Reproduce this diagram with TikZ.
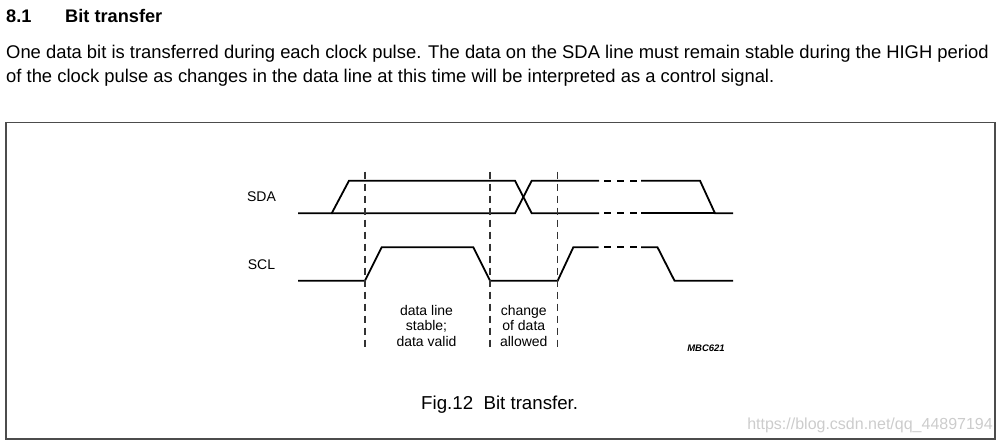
\documentclass[tikz,border=0pt]{standalone}
\usepackage{fontspec}
\setmainfont{Liberation Sans}

\begin{document}
\begin{tikzpicture}[x=1pt,y=1pt]
	\tikzstyle{every node}+=[inner sep=0pt]
	\tikzstyle{signal}=[black, line width=1.8pt, line join=miter]
	\tikzstyle{marker}=[black!80, line width=1.1pt, dash pattern=on 7pt off 5pt]
	\tikzstyle{label}=[font=\fontsize{14}{15.5}\selectfont, align=center]
	\useasboundingbox (0,0) rectangle (1001,-442);
	% heading and text
	\node [anchor=base west, font=\bfseries\fontsize{18.2}{20}\selectfont] (secnum) at (6,-22.7) {8.1};
	\node [anchor=base west, font=\bfseries\fontsize{18.2}{20}\selectfont] (sectitle) at (65,-22.7) {Bit transfer};
	\node [anchor=base west, font=\fontsize{18.4}{22}\selectfont] (textone) at (6,-58.5) {One data bit is transferred during each clock pulse. The data on the SDA line must remain stable during the HIGH period};
	\node [anchor=base west, font=\fontsize{18.4}{22}\selectfont] (texttwo) at (6,-82) {of the clock pulse as changes in the data line at this time will be interpreted as a control signal.};
	% frame
	\draw [black!70, line width=1.6pt] (6,-122.5) rectangle (995,-439);
	% SDA
	\draw [signal] (298,-213.3) -- (331.7,-213.3) -- (349,-180.7) -- (515,-180.7) -- (531.7,-213.3) -- (599,-213.3);
	\draw [signal] (331.7,-213.3) -- (515,-213.3) -- (531.7,-180.7) -- (599,-180.7);
	\draw [signal] (641,-180.7) -- (700,-180.7) -- (715,-213.3) -- (733,-213.3);
	\draw [signal] (641,-213.3) -- (715,-213.3);
	% SCL
	\draw [signal] (298,-280.7) -- (365,-280.7) -- (381.7,-247.3) -- (473.3,-247.3) -- (490,-280.7) -- (557.7,-280.7) -- (573.3,-247.3) -- (598.5,-247.3);
	\draw [signal] (641,-247.3) -- (657.5,-247.3) -- (674.5,-280.7) -- (733,-280.7);
	% gaps
	\foreach \d in {604,617,630}
	{
		\draw [signal] (\d,-180.7) -- ++(6.5,0);
		\draw [signal] (\d,-213.3) -- ++(6.5,0);
		\draw [signal] (\d,-247.3) -- ++(6.5,0);
	}
	% markers
	\foreach \m in {365,490,557.7}
		\draw [marker] (\m,-171.7) -- (\m,-347.7);
	\node [font=\fontsize{14}{16}\selectfont] (sda) at (261.5,-197) {SDA};
	\node [font=\fontsize{14}{16}\selectfont] (scl) at (261.5,-265) {SCL};
	\node [label] (stable) at (426.5,-325.5) {data line\\stable;\\data valid};
	\node [label] (change) at (523.8,-325.5) {change\\of data\\allowed};
	\node [font=\bfseries\itshape\fontsize{9.5}{11}\selectfont] (mbc) at (706,-348) {MBC621};
	\node [anchor=base west, font=\fontsize{18.7}{22}\selectfont] (caption) at (421,-409) {Fig.12\ \ Bit transfer.};
	\node [anchor=base east, text=black!20, font=\fontsize{16}{18}\selectfont] (mark) at (993,-429) {https://blog.csdn.net/qq\_44897194};
\end{tikzpicture}
\end{document}
